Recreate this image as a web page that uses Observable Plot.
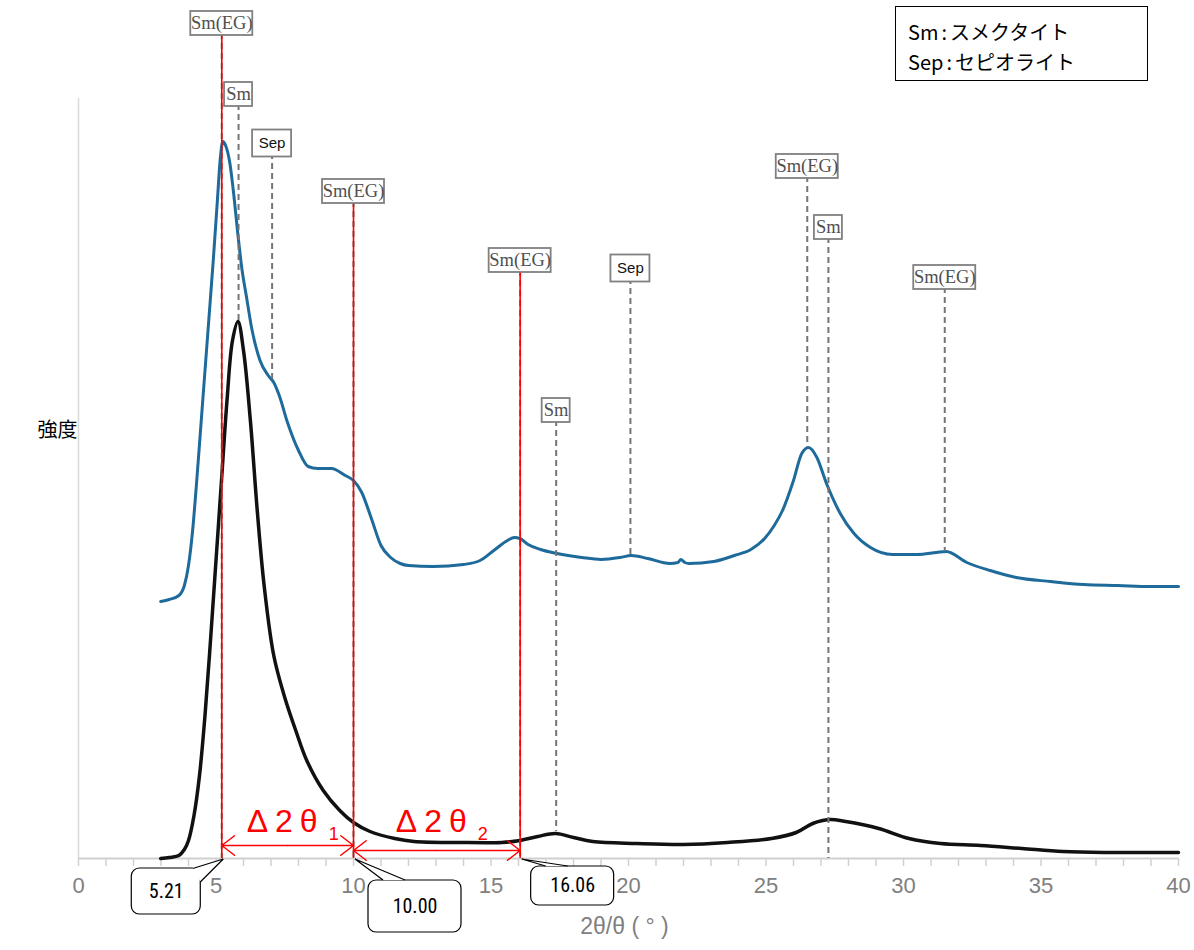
<!DOCTYPE html>
<html><head><meta charset="utf-8">
<script src="https://cdn.jsdelivr.net/npm/d3@7"></script>
<script src="https://cdn.jsdelivr.net/npm/@observablehq/plot@0.6"></script>
<style>
body{margin:0;background:#fff;}
#wrap{position:relative;width:1194px;height:950px;}
#legend{position:absolute;left:895px;top:6px;width:253px;height:75px;border:1.5px solid #000;box-sizing:border-box;font-family:"Noto Sans CJK JP",sans-serif;font-size:20px;line-height:30px;padding:10px 0 0 12px;color:#000;background:#fff;}
#legend .c{margin:0 3px;}
g[aria-label^="x-axis"] line, g[aria-label^="x-axis"] path {stroke:#d0d0d0; stroke-width:1.5px; stroke-opacity:1;}
g[aria-label^="x-axis"] text {fill:#808080; font-size:22px; font-family:"Liberation Sans",Arial,sans-serif;}
</style>
</head><body><div id="wrap"><div id="chart"></div>
<div id="legend"><div>Sm<span class="c">:</span>スメクタイト</div><div>Sep<span class="c">:</span>セピオライト</div></div></div>
<script>
// Blue trace (upper pattern): 2θ and intensity (arbitrary units)
const blueX = [2.99,3.3,3.65,3.85,4.0,4.15,4.3,4.45,4.6,4.75,4.9,5.05,5.15,5.25,5.35,5.5,5.65,5.8,5.95,6.1,6.3,6.6,6.9,7.1,7.3,7.6,8.0,8.35,8.7,9.2,9.7,10.0,10.3,10.65,11.0,11.35,11.7,12.0,12.9,14.0,14.6,15.1,15.6,15.85,16.05,16.35,16.8,17.4,18.3,19.0,19.7,20.1,20.7,21.5,21.8,21.9,22.05,22.2,23.1,23.85,24.45,24.95,25.3,25.6,26.0,26.3,26.55,26.85,27.2,27.7,28.2,28.8,29.6,30.5,31.2,31.55,32.3,33.15,34.1,35.35,36.55,37.8,39.0,40.0];
const blueI = [257,259,263,273,293,328,378,433,488,543,598,658,698,717,713,696,663,623,588,563,530,498,483,476,463,436,408,392,390,390,383,378,366,340,313,301,295,293,292,294,298,308,318,321,320,314,309,305,301,299,301,303,300,295,296,299,296,295,297,303,309,320,333,348,378,405,411,401,375,345,325,311,304,304,306,307,296,288,281,277,274,273,272,272];
// Black trace (lower pattern)
const blackX = [2.99,3.3,3.65,3.85,4.0,4.2,4.4,4.6,4.8,5.0,5.2,5.4,5.6,5.8,6.0,6.25,6.5,6.75,7.1,7.5,7.9,8.3,8.9,9.5,10.0,10.6,11.5,12.2,13.8,15.4,16.06,16.7,17.35,18.0,18.7,20.3,22.0,23.6,25.2,26.1,26.7,27.3,27.9,29.1,30.2,31.35,32.8,34.3,35.8,37.3,38.8,40.0];
const blackI = [0,1,3,9,18,43,83,143,218,298,378,458,518,537,508,438,348,273,203,161,128,98,68,48,36,27,20,17,16,16,18,22,25,21,17,15,14,16,20,26,35,39,37,30,20,15,13,10,7,6,6,6];
// Peak annotations
const peakNames = ["Sm(EG)","Sm","Sep","Sm(EG)","Sm(EG)","Sm","Sep","Sm(EG)","Sm","Sm(EG)"];
const peakX     = [5.21, 5.82, 7.04, 10.00, 16.06, 17.37, 20.07, 26.5, 27.27, 31.5];
const peakLabelI= [835, 764, 715, 667, 598, 448, 590, 692, 631, 581];
const peakEndI  = [0, 537, 477, 0, 0, 27, 303, 411, 0, 307];
// Measured positions (red)
const markedX = [5.21, 10.00, 16.06];
const markedText = ["5.21", "10.00", "16.06"];
const deltaFrom = [5.21, 10.00];
const deltaTo = [10.00, 16.06];
const deltaSub = ["1", "2"];
const deltaArrowI = [13, 8];
const xTicks = d3.range(0, 41, 1);

const blue = blueX.map((x, i) => ({x, y: blueI[i]}));
const black = blackX.map((x, i) => ({x, y: blackI[i]}));
const peaks = peakNames.map((name, i) => ({name, x: peakX[i], labelI: peakLabelI[i], endI: peakEndI[i]}));
const marked = markedX.map((x, i) => ({x, text: markedText[i], top: peakLabelI[peakX.indexOf(x)]}));
const deltas = deltaFrom.map((a, i) => ({from: a, to: deltaTo[i], mid: (a + deltaTo[i]) / 2, sub: deltaSub[i], yI: deltaArrowI[i]}));

const serifFont = "'Liberation Serif','DejaVu Serif',serif";
const narrowFont = "'Liberation Sans Narrow','Roboto Condensed','Liberation Sans',Arial,sans-serif";

function labelBoxes(index, scales) {
  const g = d3.create("svg:g");
  for (const p of peaks) {
    const cx = scales.x(p.x), cy = scales.y(p.labelI);
    const sep = p.name === "Sep";
    const w = p.name === "Sm(EG)" ? 62 : p.name === "Sm" ? 28 : 39;
    const h = sep ? 27 : 24;
    g.append("rect").attr("x", cx - w / 2).attr("y", cy - h / 2).attr("width", w).attr("height", h)
      .attr("fill", "#fff").attr("stroke", "#808080").attr("stroke-width", 1.8);
  }
  return g.node();
}

// callout geometry relative to anchor on the axis
const calloutGeom = [
  {bx: -90, by: 10, w: 69, h: 46, t: [[-21, 24], [-27, 10]]},
  {bx: 15, by: 22, w: 93, h: 52, t: [[30, 22], [52, 22]]},
  {bx: 11, by: 8, w: 83, h: 39, t: [[26, 8], [48, 8]]}
];
function calloutBoxes(index, scales) {
  const g = d3.create("svg:g");
  marked.forEach((m, i) => {
    const ax = scales.x(m.x), ay = scales.y(0);
    const c = calloutGeom[i];
    g.append("rect").attr("x", ax + c.bx).attr("y", ay + c.by).attr("width", c.w).attr("height", c.h)
      .attr("rx", 8).attr("ry", 8).attr("fill", "#fff").attr("stroke", "#000").attr("stroke-width", 1.2);
    g.append("path")
      .attr("d", `M${ax + c.t[0][0]},${ay + c.t[0][1]}L${ax + 2},${ay + 1}L${ax + c.t[1][0]},${ay + c.t[1][1]}`)
      .attr("fill", "#fff").attr("stroke", "#000").attr("stroke-width", 1.2);
  });
  return g.node();
}

const chart = Plot.plot({
  width: 1194, height: 950,
  marginLeft: 78, marginRight: 16, marginTop: 98, marginBottom: 92,
  x: {domain: [0, 40], ticks: xTicks, tickFormat: d => d % 5 === 0 ? String(d) : "", tickSize: 8, tickPadding: 11, label: null},
  y: {domain: [0, 760], axis: null},
  style: {fontFamily: "'Liberation Sans',Arial,sans-serif", fontSize: "22px", color: "#808080", background: "transparent", overflow: "visible"},
  marks: [
    Plot.ruleX([0], {stroke: "#d9d9d9", strokeWidth: 1.5}),
    Plot.ruleY([0], {stroke: "#d0d0d0", strokeWidth: 2}),
    Plot.line(blue, {x: "x", y: "y", stroke: "#1d6a9b", strokeWidth: 3, curve: "monotone-x"}),
    Plot.line(black, {x: "x", y: "y", stroke: "#111", strokeWidth: 3.5, curve: "catmull-rom"}),
    Plot.ruleX(peaks, {x: "x", y1: "labelI", y2: "endI", stroke: "#757575", strokeWidth: 2, strokeDasharray: "6,4"}),
    Plot.ruleX(marked, {x: "x", y1: "top", y2: 0, stroke: "#ff0000", strokeWidth: 1.6}),
    labelBoxes,
    Plot.text(peaks.filter(p => p.name !== "Sep"), {x: "x", y: "labelI", text: "name", fontFamily: serifFont, fontSize: 18.5, fill: "#505050"}),
    Plot.text(peaks.filter(p => p.name === "Sep"), {x: "x", y: "labelI", text: "name", fontFamily: "'Liberation Sans',Arial,sans-serif", fontSize: 15, fill: "#111"}),
    Plot.arrow(deltas, {x1: "mid", x2: "from", y1: "yI", y2: "yI", stroke: "#ff0000", strokeWidth: 1.5, headLength: 16, headAngle: 75}),
    Plot.arrow(deltas, {x1: "mid", x2: "to", y1: "yI", y2: "yI", stroke: "#ff0000", strokeWidth: 1.5, headLength: 16, headAngle: 75}),
    Plot.text(deltas, {x: "mid", y: 0, text: () => "Δ2θ", dx: -2, dy: -37, fill: "#ff0000", fontSize: 32, fontFamily: "'Liberation Sans',Arial,sans-serif"}),
    Plot.text(deltas, {x: "mid", y: 0, text: "sub", dx: 46, dy: -24, fill: "#ff0000", fontSize: 18, fontFamily: "'Liberation Sans',Arial,sans-serif"}),
    calloutBoxes,
    ...marked.map((m, i) => Plot.text([m], {x: "x", y: () => 0, text: "text", dx: calloutGeom[i].bx + calloutGeom[i].w / 2, dy: calloutGeom[i].by + calloutGeom[i].h / 2, fill: "#000", fontSize: 20, fontFamily: narrowFont})),
    Plot.text([428], {y: d => d, text: () => "強度", frameAnchor: "left", dx: -41, fill: "#000", fontSize: 20, fontFamily: "'Noto Sans CJK JP',sans-serif"}),
    Plot.text(["2θ/θ ( ° )"], {text: d => d, frameAnchor: "bottom", dy: 75, dx: -4, fill: "#808080", fontSize: 23})
  ]
});
// widen the Δ2θ glyph spacing as in the original full-width lettering
d3.select(chart).selectAll("text").filter(function() { return this.textContent === "Δ2θ"; })
  .attr("letter-spacing", "7px");
document.getElementById("chart").appendChild(chart);
</script>
</body></html>
